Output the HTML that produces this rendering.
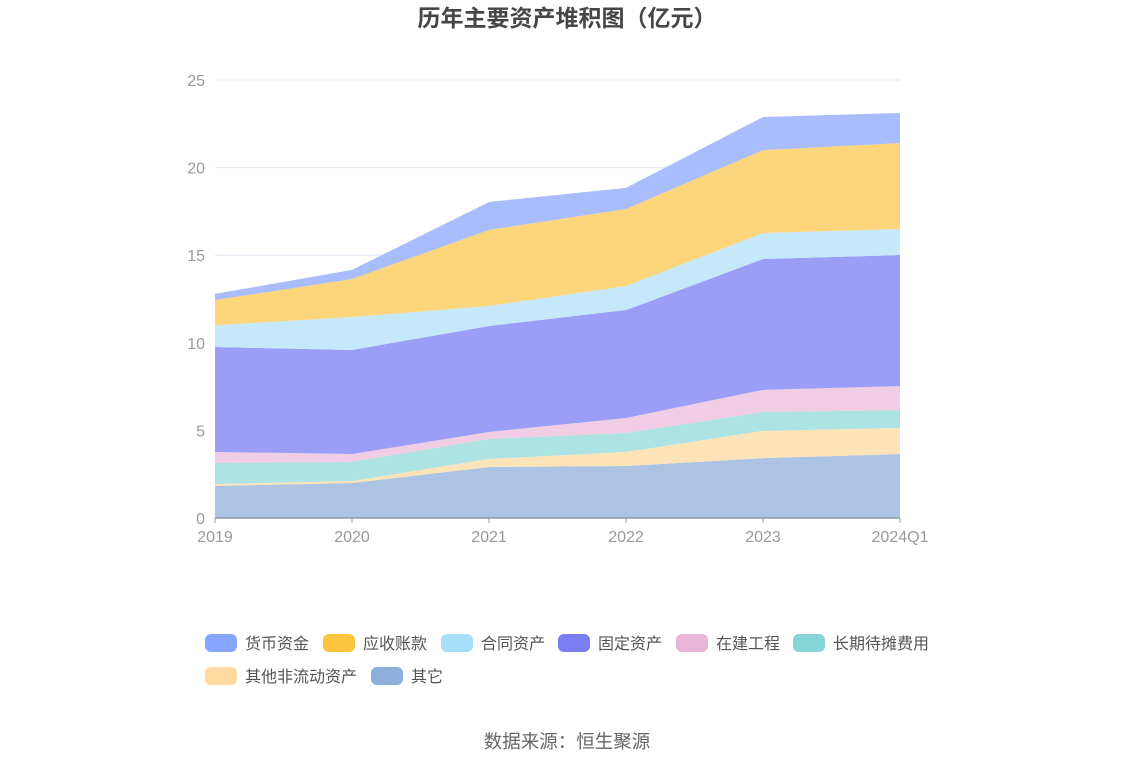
<!DOCTYPE html>
<html><head><meta charset="utf-8">
<style>
body{margin:0;background:#fff;width:1134px;height:766px;overflow:hidden;font-family:"Liberation Sans","Noto Sans CJK SC",sans-serif;}
</style></head>
<body>
<svg id="chart" width="1134" height="766" xmlns="http://www.w3.org/2000/svg" style="font-family:'Liberation Sans','Noto Sans CJK SC',sans-serif">
<text x="567" y="26" text-anchor="middle" font-size="23" font-weight="bold" fill="#464646">历年主要资产堆积图（亿元）</text>
<g id="grid"></g>
<g id="areas"></g>
<g id="axes"></g>
<g id="legend"></g>
<text x="567" y="748" text-anchor="middle" font-size="18.5" fill="#666">数据来源：恒生聚源</text>
</svg>
<script>
const categories=["2019","2020","2021","2022","2023","2024Q1"];
const seriesNames=["其它","其他非流动资产","长期待摊费用","在建工程","固定资产","合同资产","应收账款","货币资金"];
const s_other=[1.83,2.0,2.91,2.97,3.42,3.65];
const s_otherNonCurrent=[0.11,0.11,0.46,0.8,1.55,1.49];
const s_longTermPrepaid=[1.2,1.09,1.14,1.08,1.08,1.02];
const s_construction=[0.63,0.45,0.4,0.86,1.26,1.37];
const s_fixed=[5.99,5.94,6.05,6.16,7.47,7.48];
const s_contract=[1.24,1.88,1.14,1.37,1.49,1.49];
const s_receivable=[1.44,2.17,4.34,4.4,4.73,4.9];
const s_cash=[0.35,0.52,1.6,1.2,1.89,1.72];
const yTicks=[0,5,10,15,20,25];
const legendOrder=["货币资金","应收账款","合同资产","固定资产","在建工程","长期待摊费用","其他非流动资产","其它"];

const series=[s_other,s_otherNonCurrent,s_longTermPrepaid,s_construction,s_fixed,s_contract,s_receivable,s_cash];
const fills=["#adc3e4","#fde4b8","#ade3e2","#f0cde4","#9b9ef7","#c5e8fb","#fdd57a","#a9bdfd"];
const legendColors={"货币资金":"#86a5fc","应收账款":"#fdc53d","合同资产":"#a6dff9","固定资产":"#7b7ef0","在建工程":"#e9b6d9","长期待摊费用":"#84d5d6","其他非流动资产":"#fed9a0","其它":"#8eaedb"};
const slugs={"其它":"other","其他非流动资产":"other-non-current","长期待摊费用":"long-term-prepaid","在建工程":"construction","固定资产":"fixed-assets","合同资产":"contract-assets","应收账款":"receivables","货币资金":"cash"};
const NS="http://www.w3.org/2000/svg";
const x0=215,x1=900,y0=518,yTop=80,yMax=25;
const xs=i=>x0+(x1-x0)*i/(categories.length-1);
const ys=v=>y0-(y0-yTop)*v/yMax;
function mk(t,a){const e=document.createElementNS(NS,t);for(const k in a)e.setAttribute(k,a[k]);return e;}
const grid=document.getElementById('grid'),axes=document.getElementById('axes'),areas=document.getElementById('areas'),legend=document.getElementById('legend');
yTicks.forEach(v=>{
  if(v>0){const l=mk('line',{x1:x0,x2:x1,y1:ys(v),y2:ys(v),stroke:'#e0e6f1'});
  
  grid.appendChild(l);}
  const t=mk('text',{x:205,y:ys(v)+6,'text-anchor':'end','font-size':16,fill:'#999'});t.textContent=v;
  
  axes.appendChild(t);
});
let base=categories.map(()=>0);
series.forEach((s,k)=>{
  const top=base.map((b,i)=>b+s[i]);
  let d='M'+top.map((v,i)=>xs(i)+','+ys(v)).join('L');
  for(let i=categories.length-1;i>=0;i--)d+='L'+xs(i)+','+ys(base[i]);
  const p=mk('path',{d:d+'Z',fill:fills[k]});
  
  
  areas.appendChild(p);base=top;
});
const ax=mk('line',{x1:x0,x2:x1,y1:y0,y2:y0,stroke:'#8d9bad','stroke-width':1.5});

axes.appendChild(ax);
categories.forEach((c,i)=>{
  const tk=mk('line',{x1:xs(i),x2:xs(i),y1:y0,y2:y0+5,stroke:'#8d9bad'});
  
  axes.appendChild(tk);
  const t=mk('text',{x:xs(i),y:542,'text-anchor':'middle','font-size':16,fill:'#999'});t.textContent=c;
  
  axes.appendChild(t);
});
const lpos=[[205,643],[323,643],[441,643],[558,643],[676,643],[793,643],[205,676],[371,676]];
legendOrder.forEach((n,i)=>{
  const g=mk('g',{});
  
  
  const [lx,ly]=lpos[i];
  g.appendChild(mk('rect',{x:lx,y:ly-9,width:32,height:18,rx:6,fill:legendColors[n]}));
  const t=mk('text',{x:lx+40,y:ly+6,'font-size':16,fill:'#555'});t.textContent=n;g.appendChild(t);
  legend.appendChild(g);
});
</script>
</body></html>
